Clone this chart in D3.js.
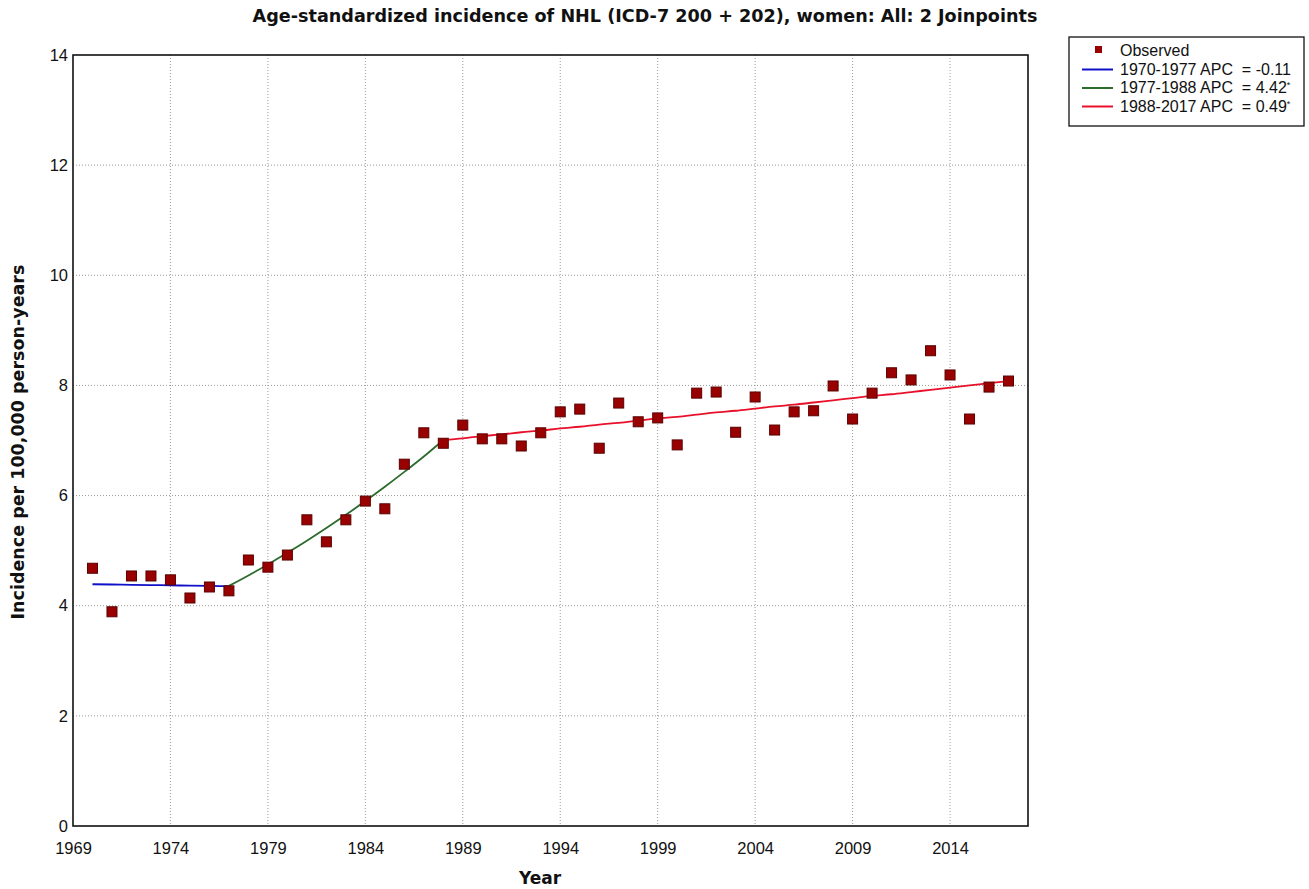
<!DOCTYPE html>
<html><head><meta charset="utf-8">
<script src="https://cdn.jsdelivr.net/npm/d3@7"></script>
<style>body{margin:0;background:#fff}svg{display:block}</style>
</head><body>
<svg id="c" width="1309" height="889"></svg>
<script>
const years = d3.range(1970, 2018);
const observed = [4.68,3.89,4.54,4.54,4.47,4.14,4.34,4.27,4.83,4.70,4.92,5.56,5.16,5.56,5.90,5.76,6.57,7.14,6.95,7.28,7.03,7.03,6.90,7.14,7.52,7.57,6.86,7.68,7.34,7.41,6.92,7.86,7.88,7.15,7.79,7.19,7.52,7.54,7.99,7.39,7.86,8.23,8.10,8.63,8.19,7.39,7.97,8.08];
const seg1Years = d3.range(1970, 1978);
const seg1 = [4.39,4.385,4.38,4.375,4.37,4.365,4.36,4.355];
const seg2Years = d3.range(1977, 1989);
const seg2 = [4.36,4.55,4.75,4.96,5.18,5.41,5.65,5.90,6.16,6.43,6.71,7.01];
const seg3Years = d3.range(1988, 2018);
const seg3 = [7.01,7.04,7.08,7.11,7.15,7.18,7.22,7.25,7.29,7.32,7.36,7.40,7.43,7.47,7.51,7.54,7.58,7.62,7.65,7.69,7.73,7.77,7.81,7.84,7.88,7.92,7.96,8.00,8.04,8.08];
const xTicks = [1969,1974,1979,1984,1989,1994,1999,2004,2009,2014];
const yTicks = [0,2,4,6,8,10,12,14];
const legendLabels = ["Observed","1970-1977 APC  = -0.11","1977-1988 APC  = 4.42","1988-2017 APC  = 0.49"];
const legendStar = [false,false,true,true];
const segColors = ["#1010c8","#2d6b2d","#e8102a"];

const svg = d3.select("#c");
const L=73, R=1028, T=55, B=826;
const x = d3.scaleLinear().domain([1969,2018]).range([L,R]);
const y = d3.scaleLinear().domain([0,14]).range([B,T]);

// gridlines
const g = svg.append("g");
g.selectAll(".vg").data(xTicks.slice(1)).enter().append("line")
  .attr("x1",d=>x(d)).attr("x2",d=>x(d)).attr("y1",T).attr("y2",B)
  .attr("stroke","#9a9a9a").attr("stroke-width",1).attr("stroke-dasharray","1,2");
g.selectAll(".hg").data(yTicks.slice(1,-1)).enter().append("line")
  .attr("x1",L).attr("x2",R).attr("y1",d=>y(d)).attr("y2",d=>y(d))
  .attr("stroke","#9a9a9a").attr("stroke-width",1).attr("stroke-dasharray","1,2");

// axes
const xAxis = d3.axisBottom(x).tickValues(xTicks).tickSize(0).tickPadding(16).tickFormat(d3.format("d"));
const yAxis = d3.axisLeft(y).tickValues(yTicks).tickSize(0).tickPadding(5);
const xg = svg.append("g").attr("transform",`translate(0,${B})`).call(xAxis);
const yg = svg.append("g").attr("transform",`translate(${L},0)`).call(yAxis);
[xg,yg].forEach(a=>{a.select(".domain").remove();a.attr("font-size",null).attr("font-family",null);
  a.selectAll("text").style("font-family","Liberation Sans, Arial, sans-serif").style("font-size","16.5px").attr("fill","#111");});

// plot border
svg.append("rect").attr("x",L).attr("y",T).attr("width",R-L).attr("height",B-T)
  .attr("fill","none").attr("stroke","#111").attr("stroke-width",1.6);

// fitted lines
const line = d3.line().x(d=>x(d[0])).y(d=>y(d[1])).curve(d3.curveMonotoneX);
[[seg1Years,seg1],[seg2Years,seg2],[seg3Years,seg3]].forEach((s,i)=>{
  svg.append("path").datum(s[0].map((yr,j)=>[yr,s[1][j]]))
    .attr("d",line).attr("fill","none").attr("stroke",segColors[i]).attr("stroke-width",1.8);
});

// observed points
svg.selectAll(".pt").data(years.map((yr,i)=>[yr,observed[i]])).enter().append("rect")
  .attr("x",d=>x(d[0])-5).attr("y",d=>y(d[1])-5).attr("width",10).attr("height",10)
  .attr("fill","#990000").attr("stroke","#5a0000").attr("stroke-width",1);

// title
svg.append("text").attr("x",645).attr("y",22).attr("text-anchor","middle")
  .attr("font-family","DejaVu Sans, Verdana, sans-serif").attr("font-weight","bold").attr("font-size",17.6)
  .attr("fill","#111").text("Age-standardized incidence of NHL (ICD-7 200 + 202), women: All: 2 Joinpoints");
// axis titles
svg.append("text").attr("x",540).attr("y",884).attr("text-anchor","middle")
  .attr("font-family","DejaVu Sans, Verdana, sans-serif").attr("font-weight","bold").attr("font-size",17)
  .attr("fill","#111").text("Year");
svg.append("text").attr("transform","translate(24,442) rotate(-90)").attr("text-anchor","middle")
  .attr("font-family","DejaVu Sans, Verdana, sans-serif").attr("font-weight","bold").attr("font-size",17.5)
  .attr("fill","#111").text("Incidence per 100,000 person-years");

// legend
const lg = svg.append("g");
lg.append("rect").attr("x",1069).attr("y",37).attr("width",235).attr("height",89)
  .attr("fill","#fff").attr("stroke","#111").attr("stroke-width",1.3);
legendLabels.forEach((lab,i)=>{
  const cy = 54 + i*18.5;
  if(i===0){
    lg.append("rect").attr("x",1095).attr("y",cy-8).attr("width",7).attr("height",7).attr("fill","#990000");
  } else {
    lg.append("line").attr("x1",1082).attr("x2",1113).attr("y1",cy-3).attr("y2",cy-3)
      .attr("stroke",segColors[i-1]).attr("stroke-width",2);
  }
  const t = lg.append("text").attr("x",1120).attr("y",cy+2).attr("font-family","Liberation Sans, Arial, sans-serif")
    .attr("font-size",16).attr("fill","#111").attr("xml:space","preserve").style("white-space","pre").text(lab);
  if(legendStar[i]) t.append("tspan").attr("font-size",9).attr("dy",-5).text("*");
});
</script>
</body></html>
